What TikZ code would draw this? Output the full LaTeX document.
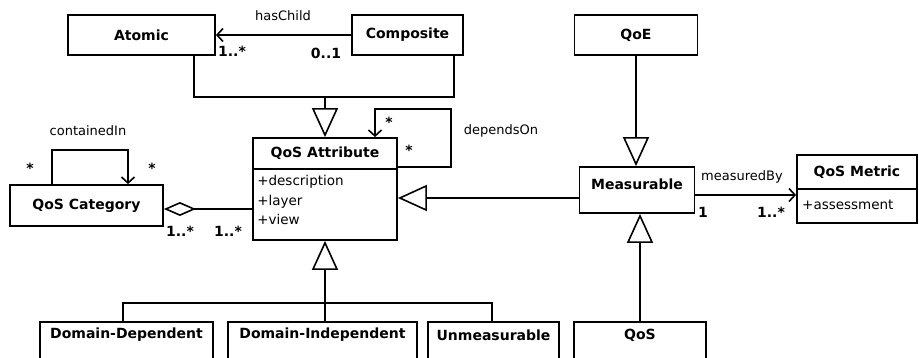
\documentclass[tikz,border=0pt]{standalone}
\usepackage{fontspec}
\setmainfont{DejaVu Sans}
\usetikzlibrary{arrows.meta}
\begin{document}
\begin{tikzpicture}[x=1pt,y=-1pt,
  box/.style={draw, line width=1.8pt, inner sep=0pt, fill=white,
    font=\bfseries\fontsize{14}{16}\selectfont},
  ttl/.style={inner sep=0pt, font=\bfseries\fontsize{14}{16}\selectfont},
  attr/.style={inner sep=0pt, align=left, font=\fontsize{13.5}{19.5}\selectfont},
  lbl/.style={inner sep=0pt, font=\fontsize{13}{15}\selectfont},
  mult/.style={inner sep=0pt, font=\bfseries\fontsize{14}{16}\selectfont},
  conn/.style={line width=1.8pt},
  gen/.style={conn, -{Triangle[open, length=29pt, width=26pt, line width=1.6pt]}},
  assoc/.style={conn, -{Straight Barb[length=6pt, width=13pt, line width=1.6pt]}},
  agg/.style={conn, {Diamond[open, length=32pt, width=14pt, line width=1.6pt]}-}
]
\useasboundingbox (0,0) rectangle (919,358);
\clip (0,0) rectangle (919,358);

% classes
\node[box, minimum width=147pt, minimum height=40pt] (atomic) at (141.5,35) {Atomic};
\node[box, minimum width=111pt, minimum height=40pt] (composite) at (407.5,35) {Composite};
\node[box, minimum width=123pt, minimum height=40pt] (qoe) at (636,35) {QoE};
\node[box, minimum width=153pt, minimum height=41pt] (cat) at (86.5,205.5) {QoS Category};
\node[box, minimum width=115pt, minimum height=46pt] (meas) at (637,190) {};
\node[ttl] (meast) at (637,184) {Measurable};

% QoS Attribute
\node[box, minimum width=144pt, minimum height=102pt] (qa) at (325,189) {};
\draw[conn] ([yshift=-32pt]qa.north west) -- ([yshift=-32pt]qa.north east);
\node[ttl] (qat) at ([yshift=-16pt]qa.north) {QoS Attribute};
\node[attr, anchor=north west] (qaa) at ([xshift=5pt,yshift=-38pt]qa.north west) {+description\\+layer\\+view};

% QoS Metric
\node[box, minimum width=120pt, minimum height=68pt] (metric) at (857,189) {};
\draw[conn] (metric.west) -- (metric.east);
\node[ttl] (metrict) at (857,172) {QoS Metric};
\node[attr, anchor=west] (metrica) at (802,205) {+assessment};

% bottom classes
\node[box, minimum width=173pt, minimum height=60pt, anchor=north] (dd) at (126.5,321) {};
\node[ttl] (ddt) at (126.5,335) {Domain-Dependent};
\node[box, minimum width=189pt, minimum height=60pt, anchor=north] (di) at (322.5,321) {};
\node[ttl] (dit) at (322.5,335) {Domain-Independent};
\node[box, minimum width=131pt, minimum height=60pt, anchor=north] (um) at (493.5,321) {};
\node[ttl] (umt) at (493.5,335) {Unmeasurable};
\node[box, minimum width=132pt, minimum height=60pt, anchor=north] (qos) at (640,321) {};
\node[ttl] (qost) at (640,335) {QoS};

% hasChild
\draw[assoc] (composite.west) -- (atomic.east);
\node[lbl] (lhas) at (283,16) {hasChild};
\node[mult] (m1) at (232,51) {1..*};
\node[mult] (m2) at (326,53) {0..1};

% Atomic / Composite generalization
\coordinate (j1) at (325,97);
\draw[conn] ([xshift=-22pt]atomic.south east) |- (j1) -| ([xshift=-10pt]composite.south east);
\draw[gen] (j1) -- (qa.north);

% dependsOn
\coordinate (d1) at (451,109);
\draw[assoc] ([yshift=22pt]qa.east) -| (d1) -| ([xshift=50pt]qa.north);
\node[mult] (m3) at (389,122) {*};
\node[mult] (m4) at (409,150) {*};
\node[lbl] (ldep) at (501,131) {dependsOn};

% containedIn
\coordinate (c1) at (128,150);
\draw[assoc] ([xshift=-34.5pt]cat.north) |- (c1) -- ([xshift=41.5pt]cat.north);
\node[mult] (m5) at (30,168) {*};
\node[mult] (m6) at (152,168) {*};
\node[lbl] (lcont) at (88,131) {containedIn};

% aggregation
\coordinate (a1) at (0,209);
\draw[agg] (cat.east |- a1) -- (qa.west |- a1);
\node[mult] (m7) at (180,231) {1..*};
\node[mult] (m8) at (228,231) {1..*};

% bottom generalization
\coordinate (b1) at (325,303);
\draw[gen] (b1) -- (qa.south);
\draw[conn] ([xshift=-3.5pt]dd.north) |- (b1) -| ([xshift=-1.5pt]um.north);
\draw[conn] (b1) -- (b1 |- di.north);

% Measurable generalizations
\coordinate (g1) at (0,198);
\draw[gen] (meas.west |- g1) -- (qa.east |- g1);
\draw[gen] (qoe.south) -- (qoe.south |- meas.north);
\draw[gen] (qos.north) -- (qos.north |- meas.south);

% measuredBy
\coordinate (mb) at (0,195);
\draw[assoc] (meas.east |- mb) -- (metric.west |- mb);
\node[lbl] (lmeas) at (742,177) {measuredBy};
\node[mult] (m9) at (703,212) {1};
\node[mult] (m10) at (771,212) {1..*};
\end{tikzpicture}
\end{document}
